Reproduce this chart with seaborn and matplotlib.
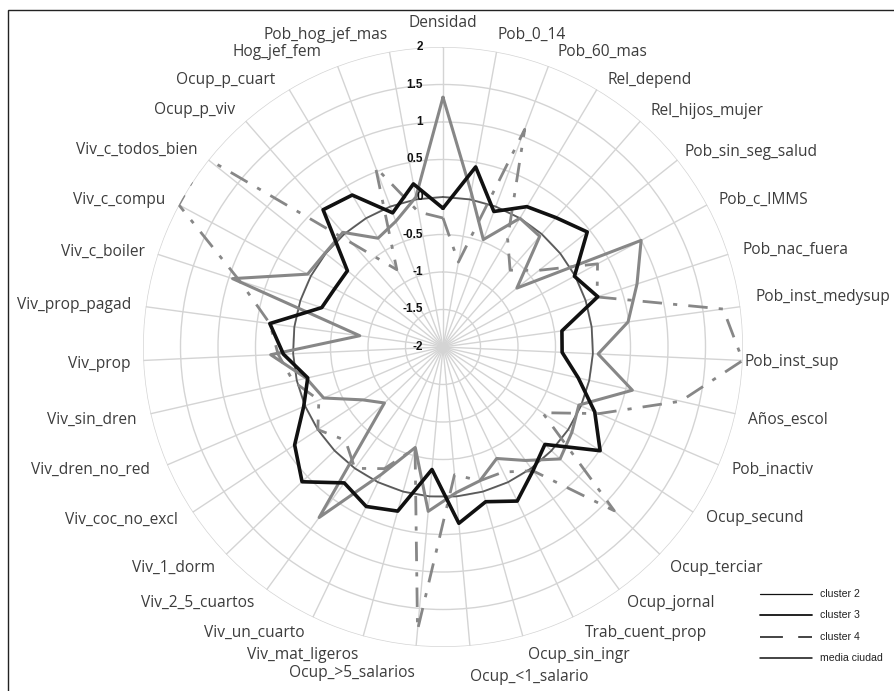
import numpy as np
import pandas as pd
import matplotlib
matplotlib.use("Agg")
import matplotlib.pyplot as plt
import seaborn as sns
from matplotlib.lines import Line2D
from matplotlib.patches import Rectangle

categories = ["Densidad", "Pob_0_14", "Pob_60_mas", "Rel_depend", "Rel_hijos_mujer",
              "Pob_sin_seg_salud", "Pob_c_IMMS", "Pob_nac_fuera", "Pob_inst_medysup",
              "Pob_inst_sup", "Años_escol", "Pob_inactiv", "Ocup_secund", "Ocup_terciar",
              "Ocup_jornal", "Trab_cuent_prop", "Ocup_sin_ingr", "Ocup_<1_salario",
              "Ocup_>5_salarios", "Viv_mat_ligeros", "Viv_un_cuarto", "Viv_2_5_cuartos",
              "Viv_1_dorm", "Viv_coc_no_excl", "Viv_dren_no_red", "Viv_sin_dren", "Viv_prop",
              "Viv_prop_pagad", "Viv_c_boiler", "Viv_c_compu", "Viv_c_todos_bien",
              "Ocup_p_viv", "Ocup_p_cuart", "Hog_jef_fem", "Pob_hog_jef_mas"]

cluster2 = [1.33, 0.10, -0.47, 0.00, -0.04, -0.74, 1.00, 0.72, 0.49, 0.07,
            0.59, -0.03, 0.06, 0.16, -0.13, -0.35, -0.15, -0.05, 0.20, -0.61,
            -0.12, 0.81, -0.92, -0.72, -0.27, -0.13, 0.30, -0.88, 0.95, 0.05,
            0.01, 0.03, -0.31, -0.21, 0.03]
cluster3 = [-0.15, 0.44, -0.07, 0.18, 0.29, 0.46, -0.01, 0.17, -0.40, -0.41,
            -0.15, 0.20, 0.51, -0.12, 0.04, 0.28, 0.14, 0.36, -0.36, 0.27,
            0.36, 0.24, 0.60, 0.37, 0.02, -0.15, 0.13, 0.33, -0.30, -0.36,
            -0.37, 0.43, 0.36, -0.09, 0.21]
cluster4 = [-0.28, -0.85, 1.10, -0.32, -0.64, -0.36, 0.34, 0.16, 1.77, 2.00,
            1.25, 0.26, -0.41, 1.16, 0.04, -0.15, -0.15, -0.29, 1.79, -0.60,
            -0.20, 0.00, -0.20, 0.00, -0.20, 0.05, 0.20, 0.33, 0.85, 2.00,
            2.05, -0.17, -0.80, 0.56, -0.17]
media_ciudad = [0.0] * len(categories)

r_ticks = [-2, -1.5, -1, -0.5, 0, 0.5, 1, 1.5, 2]
r_tick_labels = ["-2", "-1.5", "-1", "-0.5", "0", "0.5", "1", "1.5", "2"]
legend_labels = ["cluster 2", "cluster 3", "cluster 4", "media ciudad"]

# pixel offsets of each category label from the end of its spoke
label_dx = [0, 1, 9, 11, 10, 7, 11, 14, 15, 2, 13, 13, 13, 10, 8, 12, 5, 0,
            -1, -5, -8, -12, -11, -15, -17, -14, -13, -14, -13, -14, -11, -10, -14, -16, -2]
label_dy = [-24, -17, -14, -9, -10, -8, -5, -4, -10, 2, 6, 5, 6, 14, 13, 16, 19, 31,
            27, 19, 16, 13, 14, 8, 5, 6, 4, -2, -2, -5, -10, -11, -9, -14, -17]

sns.set_theme(style="white")
plt.rcParams['font.family'] = ['Open Sans', 'DejaVu Sans']

W, H = 895, 691
fig = plt.figure(figsize=(W / 100, H / 100), dpi=100)
cx, cy, rad = 443, 347, 300
ax = fig.add_axes([(cx - rad) / W, (H - cy - rad) / H, 2 * rad / W, 2 * rad / H],
                  projection="polar")
ax.set_theta_zero_location("N")
ax.set_theta_direction(-1)

n = len(categories)
theta = np.arange(n) * 2 * np.pi / n

def closed(vals):
    t = np.append(theta, theta[0])
    v = np.append(np.asarray(vals, float), vals[0])
    return pd.DataFrame({"theta": t, "r": v})

ax.set_ylim(-2, 2)
ax.set_yticks(r_ticks[1:])
ax.set_yticklabels([])
ax.set_xticks(theta)
ax.set_xticklabels([])
ax.grid(True, color="#d4d4d4", linewidth=1.0)
ax.spines["polar"].set_visible(False)
ax.set_facecolor("white")

gray = "#878787"
sns.lineplot(data=closed(media_ciudad), x="theta", y="r", sort=False, ax=ax,
             color="#5a5a5a", linewidth=1.3, estimator=None)
sns.lineplot(data=closed(cluster2), x="theta", y="r", sort=False, ax=ax,
             color=gray, linewidth=2.2, estimator=None)
sns.lineplot(data=closed(cluster4), x="theta", y="r", sort=False, ax=ax,
             color=gray, linewidth=2.0, estimator=None)
ax.lines[-1].set_linestyle((0, (7, 4, 1.5, 4)))
sns.lineplot(data=closed(cluster3), x="theta", y="r", sort=False, ax=ax,
             color="#111111", linewidth=2.6, estimator=None)
ax.set_xlabel("")
ax.set_ylabel("")

for rv, lab in zip(r_ticks, r_tick_labels):
    ax.annotate(lab, xy=(0, rv), xytext=(-20, 0), textcoords="offset pixels",
                ha="right", va="center", fontsize=8.5, fontweight="bold",
                family=["Liberation Sans", "DejaVu Sans"], color="#111111",
                annotation_clip=False)

for i, lab in enumerate(categories):
    s = np.sin(theta[i])
    if abs(s) < 0.05:
        ha = "center"
    elif s > 0:
        ha = "left"
    else:
        ha = "right"
    ax.annotate(lab, xy=(theta[i], 2), xytext=(label_dx[i], -label_dy[i]),
                textcoords="offset pixels", ha=ha, va="center", fontsize=11.2,
                color="#3c3c3c", annotation_clip=False)

ls = [dict(lw=0.9, ls="-"), dict(lw=1.3, ls="-"), dict(lw=1.1, ls=(0, (15, 10))),
      dict(lw=1.1, ls="-")]
for k, (lab, st) in enumerate(zip(legend_labels, ls)):
    y = 1 - (594 + 21.3 * k) / H
    fig.add_artist(Line2D([760 / W, 812 / W], [y, y], color="#111111",
                          linewidth=st["lw"], linestyle=st["ls"]))
    fig.text(820 / W, y, lab, ha="left", va="center", fontsize=7.6,
             family=["Liberation Sans", "DejaVu Sans"], color="#222222")

fig.add_artist(Rectangle((8 / W, -0.05), 1.2, 1.05 - 10 / H, transform=fig.transFigure,
                         fill=False, edgecolor="#222222", linewidth=1.0))

fig.savefig("out.png", dpi=100, facecolor="white")
